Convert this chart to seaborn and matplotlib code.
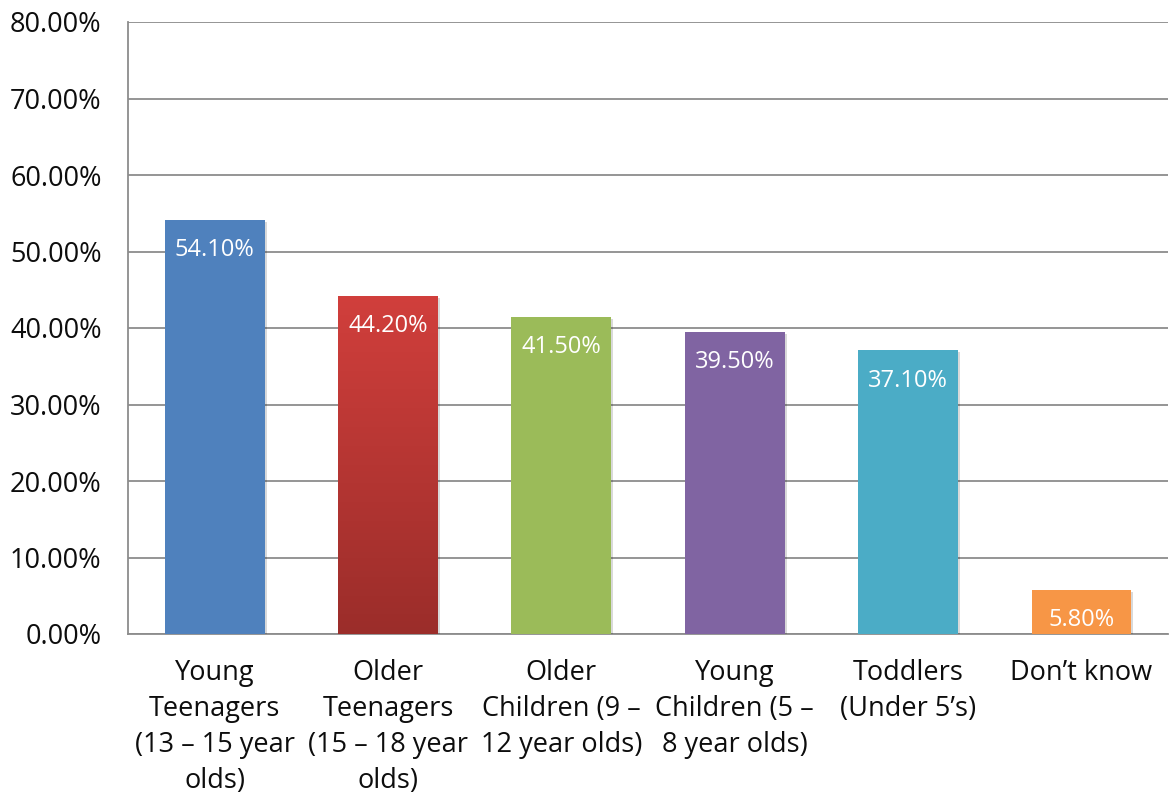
import matplotlib
matplotlib.use("Agg")
import matplotlib.pyplot as plt
import matplotlib.patheffects as pe
import numpy as np
import pandas as pd
import seaborn as sns
from matplotlib.colors import LinearSegmentedColormap

categories = [
    "Young\nTeenagers\n(13 – 15 year\nolds)",
    "Older\nTeenagers\n(15 – 18 year\nolds)",
    "Older\nChildren (9 –\n12 year olds)",
    "Young\nChildren (5 –\n8 year olds)",
    "Toddlers\n(Under 5’s)",
    "Don’t know",
]
values = [54.1, 44.2, 41.5, 39.5, 37.1, 5.8]
colors = ["#4F81BD", "#C0504D", "#9BBB59", "#8064A2", "#4BACC6", "#F79646"]
y_ticks = [0, 10, 20, 30, 40, 50, 60, 70, 80]

sns.set_theme(style="white")
plt.rcParams["font.family"] = ["Open Sans", "DejaVu Sans"]

df = pd.DataFrame({"category": categories, "value": values})

fig = plt.figure(figsize=(11.71, 7.98), dpi=100)
ax = fig.add_axes([128 / 1171, 1 - 634 / 798, 1040 / 1171, (634 - 22) / 798])

sns.barplot(data=df, x="category", y="value", hue="category", palette=colors,
            legend=False, width=0.575, ax=ax, saturation=1, zorder=3,
            linewidth=0, edgecolor="none")

grid_color = "#8C8C8C"
text_color = "#0D0D0D"
ax.set_ylim(0, 80)
ax.set_xlim(-0.5, len(categories) - 0.5)
ax.set_yticks(y_ticks)
ax.set_yticklabels([f"{t:.2f}%" for t in y_ticks], fontsize=19.5, color=text_color)
ax.tick_params(axis="y", length=0, pad=19)
ax.tick_params(axis="x", length=0, pad=18)
for lbl in ax.get_xticklabels():
    lbl.set_fontsize(19.5)
    lbl.set_color(text_color)
    lbl.set_linespacing(1.38)
ax.set_xlabel("")
ax.set_ylabel("")
ax.yaxis.grid(True, color=grid_color, linewidth=1.3, zorder=0)
ax.set_axisbelow(True)
for side in ["top", "right"]:
    ax.spines[side].set_visible(False)
for side in ["left", "bottom"]:
    ax.spines[side].set_color(grid_color)
    ax.spines[side].set_linewidth(1.3)

# gradient fill for the red bar, soft shadow for all bars
red_cmap = LinearSegmentedColormap.from_list("redgrad", ["#9B2D2A", "#D13F3C"])
for i, bar in enumerate(ax.patches):
    bar.set_path_effects([pe.SimplePatchShadow(offset=(1.5, -1.5), alpha=0.15, shadow_rgbFace="black"),
                          pe.Normal()])
    if i == 1:
        x0, w, h = bar.get_x(), bar.get_width(), bar.get_height()
        grad = np.linspace(0, 1, 256).reshape(-1, 1)
        im = ax.imshow(grad, cmap=red_cmap, origin="lower", aspect="auto",
                       extent=[x0, x0 + w, 0, h], zorder=3.5)
        im.set_clip_path(bar)
    ax.text(bar.get_x() + bar.get_width() / 2, values[i] - 2.4, f"{values[i]:.2f}%",
            ha="center", va="top", color="white", fontsize=17, zorder=5)

ax.set_xlim(-0.5, len(categories) - 0.5)
ax.set_ylim(0, 80)

fig.savefig("out.png", dpi=100)
